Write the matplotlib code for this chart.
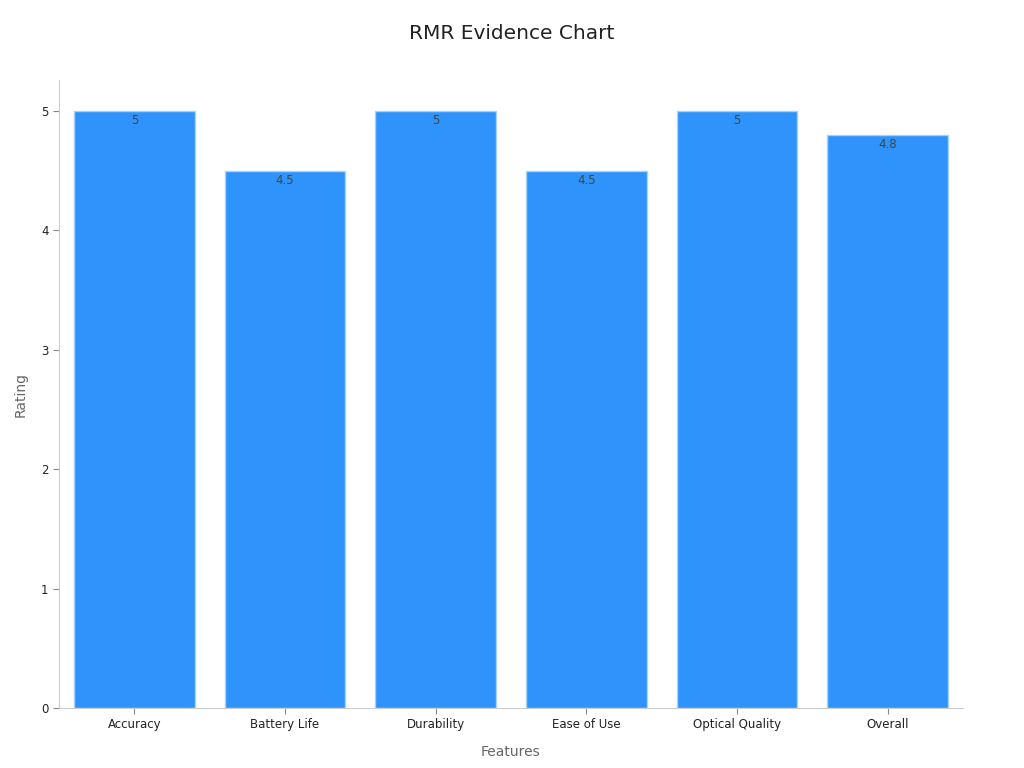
"""
Bar chart of RMR evidence ratings by feature.
"""
import matplotlib
matplotlib.use("Agg")
import matplotlib.pyplot as plt

# ---- data ----
FEATURES = ["Accuracy", "Battery Life", "Durability", "Ease of Use",
            "Optical Quality", "Overall"]
RATINGS = [5, 4.5, 5, 4.5, 5, 4.8]
VALUE_LABELS = ["5", "4.5", "5", "4.5", "5", "4.8"]

BAR_COLOR = "#2E93FA"
EDGE_COLOR = "#A9D2FA"
SPINE_COLOR = "#CCCCCC"

# ---- plot ----
fig = plt.figure(figsize=(10.24, 7.68), dpi=100)
ax = fig.add_axes([0.0576, 0.0781, 0.8828, 0.8177])

x = range(len(FEATURES))
bars = ax.bar(x, RATINGS, width=0.8, color=BAR_COLOR,
              edgecolor=EDGE_COLOR, linewidth=1)

for bar, lab in zip(bars, VALUE_LABELS):
    ax.annotate(lab, (bar.get_x() + bar.get_width() / 2, bar.get_height()),
                xytext=(0, -2), textcoords="offset points",
                ha="center", va="top", fontsize=8.5, color="#444444")

ax.set_xlim(-0.5, len(FEATURES) - 0.5)
ax.set_ylim(0, 5.26)
ax.set_xticks(list(x))
ax.set_xticklabels(FEATURES)
ax.set_yticks([0, 1, 2, 3, 4, 5])

ax.tick_params(axis="both", labelsize=8.5, labelcolor="#222222",
               color="#888888", length=4)

for side in ("top", "right"):
    ax.spines[side].set_visible(False)
for side in ("left", "bottom"):
    ax.spines[side].set_color(SPINE_COLOR)

ax.set_xlabel("Features", fontsize=10, color="#666666", labelpad=10)
ax.set_ylabel("Rating", fontsize=10, color="#666666", labelpad=10)
fig.text(0.5, 0.957, "RMR Evidence Chart", ha="center", va="center",
         fontsize=14.5, color="#222222")

plt.savefig("out.png", dpi=100)
plt.close()
